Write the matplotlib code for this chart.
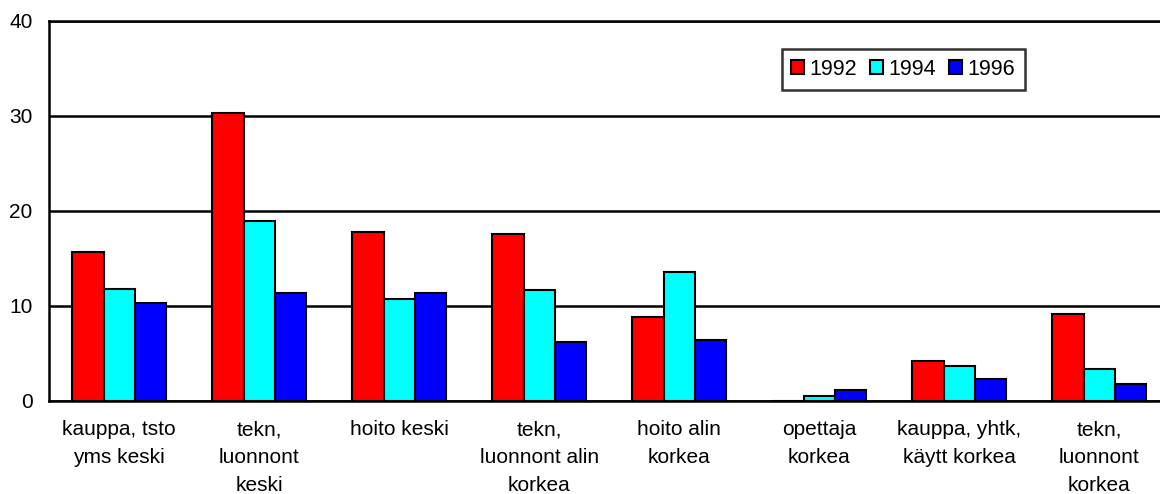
import numpy as np
import matplotlib.pyplot as plt

plt.rcParams['font.family'] = ['Liberation Sans', 'DejaVu Sans']

categories = ['kauppa, tsto\nyms keski', 'tekn,\nluonnont\nkeski', 'hoito keski',
              'tekn,\nluonnont alin\nkorkea', 'hoito alin\nkorkea', 'opettaja\nkorkea',
              'kauppa, yhtk,\nkäytt korkea', 'tekn,\nluonnont\nkorkea']
years = ['1992', '1994', '1996']
v1992 = [15.6, 30.3, 17.8, 17.5, 8.8, 0.0, 4.15, 9.1]
v1994 = [11.8, 18.9, 10.7, 11.7, 13.5, 0.5, 3.6, 3.35]
v1996 = [10.3, 11.3, 11.3, 6.15, 6.4, 1.15, 2.3, 1.75]
colors = ['#ff0000', '#00ffff', '#0000ff']

fig = plt.figure(figsize=(11.6, 4.94), dpi=100)
ax = fig.add_axes([0.0425, 0.1889, 0.9655, 0.7692])

x = np.arange(len(categories))
w = 0.2236
for i, vals in enumerate([v1992, v1994, v1996]):
    ax.bar(x + (i - 1) * w, vals, w, color=colors[i], edgecolor='black',
           linewidth=1.5, label=years[i], zorder=3)

ax.set_xlim(-0.5, 7.5)
ax.set_ylim(0, 40)
ax.set_yticks([0, 10, 20, 30, 40])
ax.set_xticks(x)
ax.set_xticklabels(categories, fontsize=15, linespacing=1.6)
ax.tick_params(axis='y', length=0, pad=12, labelsize=15)
ax.tick_params(axis='x', length=0, pad=14)
ax.yaxis.grid(True, color='black', linewidth=1.8, zorder=0)
ax.spines['right'].set_visible(False)
for s in ['left', 'top', 'bottom']:
    ax.spines[s].set_linewidth(1.8)

leg = ax.legend(ncol=3, loc='upper left', bbox_to_anchor=(0.654, 0.925),
                fontsize=15.5, frameon=True, fancybox=False, edgecolor='black',
                handlelength=0.6, handleheight=0.6, handletextpad=0.25,
                columnspacing=0.6, borderpad=0.45, borderaxespad=0)
leg.get_frame().set_linewidth(1.8)

fig.savefig('out.png', dpi=100)
